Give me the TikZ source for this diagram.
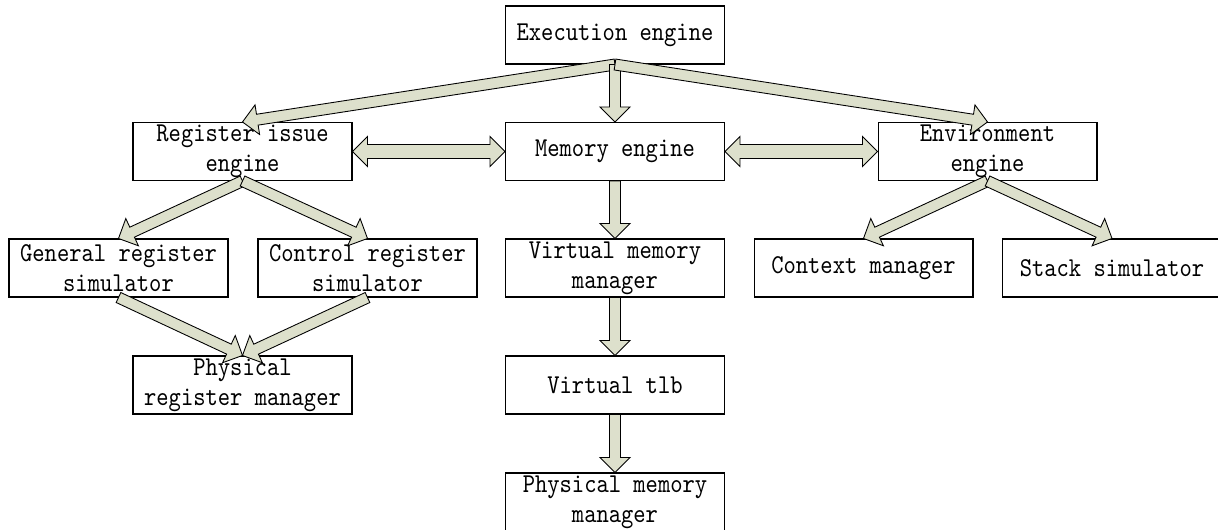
\documentclass[tikz,border=0pt]{standalone}
\usepackage{fontspec}
\newfontfamily\boxfont{lmmono10-regular.otf}[FakeStretch=0.86]
\usetikzlibrary{positioning,calc}
\definecolor{arrowfill}{RGB}{221,224,204}
\newcommand{\arrhl}{0.3cm}
\newcommand{\arrhw}{0.3cm}
\newcommand{\arrsw}{0.11cm}
\newcommand{\arrdw}{0.14cm}
\newcommand{\fatarrow}[2]{%
\coordinate (fa-s) at (#1); \coordinate (fa-e) at (#2);
\coordinate (fa-h) at ($(fa-e)!\arrhl!(fa-s)$);
\draw[fatbody] ($(fa-s)!\arrsw!90:(fa-e)$) -- ($(fa-h)!\arrsw!90:(fa-e)$) -- ($(fa-h)!\arrhw!90:(fa-e)$) -- (fa-e)
  -- ($(fa-h)!\arrhw!-90:(fa-e)$) -- ($(fa-h)!\arrsw!-90:(fa-e)$) -- ($(fa-s)!\arrsw!-90:(fa-e)$) -- cycle;}
\newcommand{\fatdarrow}[2]{%
\coordinate (fa-s) at (#1); \coordinate (fa-e) at (#2);
\coordinate (fa-h) at ($(fa-e)!\arrhl!(fa-s)$);
\coordinate (fa-g) at ($(fa-s)!\arrhl!(fa-e)$);
\draw[fatbody] (fa-s) -- ($(fa-g)!\arrhw!90:(fa-e)$) -- ($(fa-g)!\arrdw!90:(fa-e)$) -- ($(fa-h)!\arrdw!90:(fa-e)$) -- ($(fa-h)!\arrhw!90:(fa-e)$) -- (fa-e)
  -- ($(fa-h)!\arrhw!-90:(fa-e)$) -- ($(fa-h)!\arrdw!-90:(fa-e)$) -- ($(fa-g)!\arrdw!-90:(fa-e)$) -- ($(fa-g)!\arrhw!-90:(fa-e)$) -- cycle;}

\begin{document}
\begin{tikzpicture}[x=0.02cm,y=-0.02cm,font=\boxfont\fontsize{15.5}{17}\selectfont,
  box/.style={draw,line width=0.6pt,minimum width=4.38cm,minimum height=1.16cm,inner sep=0pt,align=center},
  fatbody/.style={draw,fill=arrowfill,line width=0.5pt,line join=miter}]
\useasboundingbox (0,0) rectangle (1218,530);
\node[box] (exe) at (615,35) {Execution engine};
\node[box] (reg) at (242.5,151.5) {Register issue\\engine};
\node[box] (mem) at (615,151.5) {Memory engine};
\node[box] (env) at (987.5,151.5) {Environment\\engine};
\node[box] (gen) at (118.5,268) {General register\\simulator};
\node[box] (ctrl) at (367.5,268) {Control register\\simulator};
\node[box] (vmm) at (615,268) {Virtual memory\\manager};
\node[box] (ctx) at (863.5,268) {Context manager};
\node[box] (stk) at (1112,268) {Stack simulator};
\node[box] (preg) at (242.5,385) {Physical\\register manager};
\node[box] (tlb) at (615,385) {Virtual tlb};
\node[box] (pmm) at (615,502) {Physical memory\\manager};
\fatarrow{exe.south}{reg.north}
\fatarrow{exe.south}{mem.north}
\fatarrow{exe.south}{env.north}
\fatdarrow{reg.east}{mem.west}
\fatdarrow{mem.east}{env.west}
\fatarrow{reg.south}{gen.north}
\fatarrow{reg.south}{ctrl.north}
\fatarrow{gen.south}{preg.north}
\fatarrow{ctrl.south}{preg.north}
\fatarrow{mem.south}{vmm.north}
\fatarrow{vmm.south}{tlb.north}
\fatarrow{tlb.south}{pmm.north}
\fatarrow{env.south}{ctx.north}
\fatarrow{env.south}{stk.north}
\end{tikzpicture}
\end{document}
